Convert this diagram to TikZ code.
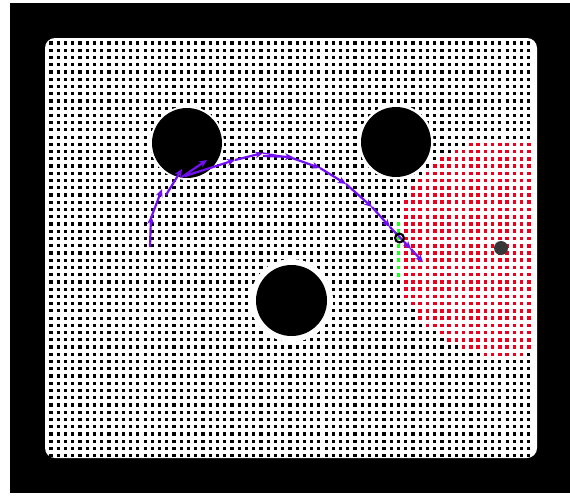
\documentclass[tikz,border=0pt]{standalone}
\usetikzlibrary{arrows.meta}
\definecolor{pathc}{RGB}{115,15,245}
\definecolor{reddot}{RGB}{235,0,30}
\definecolor{greendot}{RGB}{30,255,30}
\definecolor{goalc}{RGB}{55,55,55}
\begin{document}
\begin{tikzpicture}[x=1pt,y=-1pt,
  dotrow/.style={line width=3.2pt, dash pattern=on 3.2pt off 4.04pt},
  arr/.style={pathc, line width=2.2pt, -{Stealth[length=8pt,width=7pt]}},
  obstacle/.style={fill=black}]
\useasboundingbox (0,0) rectangle (570,496);
\fill[white] (0,0) rectangle (570,496);
\fill[black] (10,3) rectangle (570,493);
\fill[white, rounded corners=10pt] (45,38) rectangle (537,458);
% dot grid
\foreach \j in {0,...,57} {
  \draw[dotrow] (49.4,{43+7.24*\j}) -- (532,{43+7.24*\j});
}
% red region
\foreach \i in {49,...,66} {
  \foreach \j in {10,...,46} {
    \pgfmathsetmacro\dd{(\i-62.4)^2+(\j-28.3)^2}
    \ifdim\dd pt<225pt
      \fill[reddot] ({51+7.24*\i-1.8},{43+7.24*\j-1.8}) rectangle +(3.6,3.6);
    \fi
  }
}
% green column
\foreach \j in {25,...,32} {
  \fill[greendot] ({51+7.24*48-1.9},{43+7.24*\j-1.9}) rectangle +(3.8,3.8);
}
% obstacles
\fill[white] (187,143) circle (37);
\fill[obstacle] (187,143) circle (35);
\fill[white] (396,142) circle (37.5);
\fill[obstacle] (396,142) circle (35);
\fill[white] (291.5,300.5) circle (41.5);
\fill[obstacle] (291.5,300.5) circle (35.5);
% goal
\fill[goalc] (501,248) circle (7);
% path
\coordinate (p0) at (150,247);
\coordinate (p1) at (151,216);
\coordinate (p1b) at (151,218);
\coordinate (p2) at (162,189);
\coordinate (p2b) at (166,195);
\coordinate (p3) at (182,169);
\coordinate (p3b) at (182,177);
\coordinate (p4) at (207,160);
\coordinate (p4b) at (185,176);
\coordinate (p5) at (235,160);
\coordinate (p6) at (263,153);
\coordinate (p6b) at (263,156);
\coordinate (p7) at (293,157);
\coordinate (p7b) at (292,158);
\coordinate (p8) at (320,168);
\coordinate (p9) at (346,184);
\coordinate (p10) at (372,207);
\coordinate (p11) at (390,227);
\coordinate (p12) at (411,249);
\coordinate (p13) at (423,262);
\draw[arr] (p0) -- (p1);
\draw[arr] (p1b) -- (p2);
\draw[arr] (p2b) -- (p3);
\draw[arr] (p3b) -- (p4);
\draw[arr] (p4b) -- (p5);
\draw[arr] (p5) -- (p6);
\draw[arr] (p6b) -- (p7);
\draw[pathc, line width=1.4pt] (p6) -- (p7b);
\draw[arr] (p7b) -- (p8);
\draw[arr] (p8) -- (p9);
\draw[arr] (p9) -- (p10);
\draw[arr] (p10) -- (p11);
\draw[arr] (p11) -- (p12);
\draw[arr] (p12) -- (p13);
% current position marker
\draw[black, line width=2.2pt] (399.5,238) circle (4.4);
\end{tikzpicture}
\end{document}
